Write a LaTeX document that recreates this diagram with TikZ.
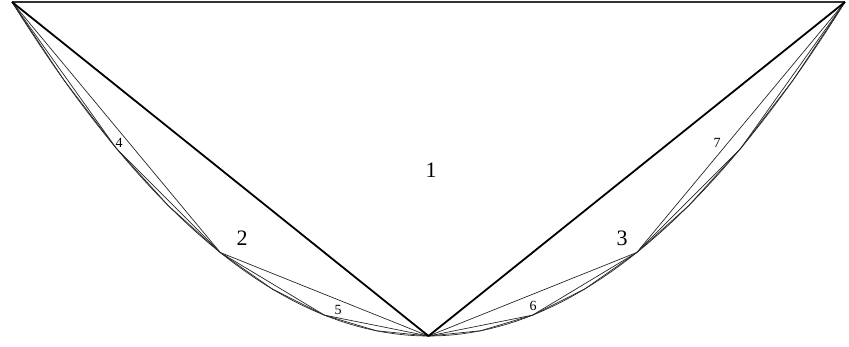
\documentclass[tikz,border=0pt]{standalone}
\usepackage{fontspec}
\setmainfont{Liberation Serif}
\tikzset{
  every node/.style = {font=\rmfamily, text=black, inner sep=0pt},
  qpmain/.style  = {draw=black, line width=1.8pt, line join=round},
  qptop/.style   = {draw=black!80, line width=1.8pt},
  qpside/.style  = {draw=black!85, line width=0.7pt, line join=round},
  qpbig/.style   = {font=\fontsize{22}{24}\selectfont},
  qpsmall/.style = {font=\fontsize{14}{16}\selectfont},
}

\begin{document}
\begin{tikzpicture}[x=1pt, y=-1pt]
\useasboundingbox (0,0) rectangle (849,347);

% points on the parabola, t = -1 ... 1
\foreach \i in {0,...,16}{
  \pgfmathsetmacro{\t}{-1+\i/8}
  \coordinate (p\i) at ({428.5+416.5*\t}, {336-334*\t*\t});
}

% the parabola itself
\draw[qpside] plot[domain=-1:1, samples=90] ({428.5+416.5*\x}, {336-334*\x*\x});

% inscribed triangles, finer and finer
\foreach \s in {1,2,4}{
  \pgfmathtruncatemacro{\last}{16-\s}
  \foreach \i in {0,\s,...,\last}{
    \pgfmathtruncatemacro{\j}{\i+\s}
    \draw[qpside] (p\i) -- (p\j);
  }
}

\draw[qptop] (p0) -- (p16);
\draw[qpmain] (p0) -- (p8) -- (p16);

\node[qpbig] (lab1) at (431,170) {1};
\node[qpbig] (lab2) at (242,238) {2};
\node[qpbig] (lab3) at (622,238) {3};
\node[qpsmall] (lab4) at (119,143) {4};
\node[qpsmall] (lab5) at (338,310) {5};
\node[qpsmall] (lab6) at (533,306) {6};
\node[qpsmall] (lab7) at (717,143) {7};
\end{tikzpicture}
\end{document}
